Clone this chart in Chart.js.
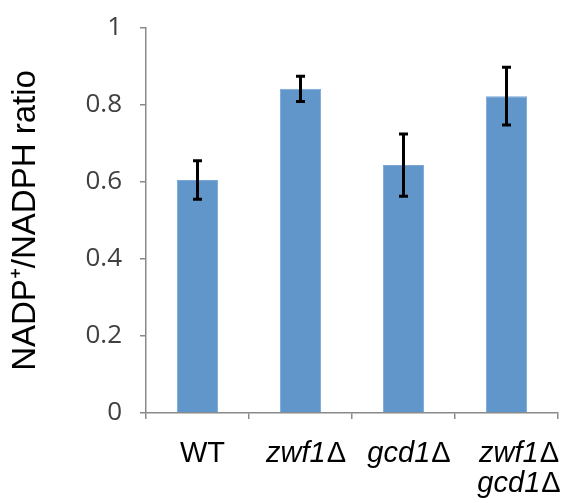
<!DOCTYPE html>
<html>
<head>
<meta charset="utf-8">
<script src="https://cdn.jsdelivr.net/npm/chart.js@4/dist/chart.umd.min.js"></script>
<style>
  html, body { margin: 0; padding: 0; background: #fff; }
  #wrap { width: 565px; height: 503px; }
</style>
</head>
<body>
<div id="wrap"><canvas id="ratioChart"></canvas></div>
<script>
const strains = ["WT", "zwf1Δ", "gcd1Δ", ["zwf1Δ", "gcd1Δ"]];
const ratio = [0.605, 0.842, 0.644, 0.823];
const ratioErr = [0.05, 0.033, 0.081, 0.075];
const yTicks = [0, 0.2, 0.4, 0.6, 0.8, 1];

const axisGrey = "#898989";
const labelFont = "29px 'Liberation Sans'";
const geneFont = "italic 29px 'Liberation Sans'";

// error bars drawn through the y scale
const errorBars = {
  id: "errorBars",
  afterDatasetsDraw(chart) {
    const c = chart.ctx;
    const y = chart.scales.y;
    const meta = chart.getDatasetMeta(0);
    c.save();
    c.strokeStyle = "#000";
    c.lineWidth = 3;
    meta.data.forEach(function (bar, i) {
      const top = y.getPixelForValue(ratio[i] + ratioErr[i]);
      const bot = y.getPixelForValue(ratio[i] - ratioErr[i]);
      c.beginPath();
      c.moveTo(bar.x, top);
      c.lineTo(bar.x, bot);
      c.moveTo(bar.x - 4.5, top);
      c.lineTo(bar.x + 4.5, top);
      c.moveTo(bar.x - 4.5, bot);
      c.lineTo(bar.x + 4.5, bot);
      c.stroke();
    });
    c.restore();
  },
};

// category labels: gene names in italics, the delta upright
function drawLabelLine(c, text, x, y) {
  const parts = text.endsWith("Δ") ? [text.slice(0, -1), "Δ"] : [text, ""];
  const gene = text === "WT" ? labelFont : geneFont;
  c.font = gene;
  const w1 = c.measureText(parts[0]).width;
  c.font = labelFont;
  const w2 = c.measureText(parts[1]).width;
  let left = x - (w1 + w2) / 2;
  c.font = gene;
  c.fillText(parts[0], left, y);
  c.font = labelFont;
  c.fillText(parts[1], left + w1 + 1, y);
}

const strainLabels = {
  id: "strainLabels",
  afterDraw(chart) {
    const c = chart.ctx;
    const x = chart.scales.x;
    const base = chart.chartArea.bottom + 49;
    c.save();
    c.fillStyle = "#000";
    c.textAlign = "left";
    c.textBaseline = "alphabetic";
    strains.forEach(function (lab, i) {
      const cx = x.getPixelForValue(i);
      if (Array.isArray(lab)) {
        lab.forEach(function (line, j) {
          drawLabelLine(c, line, cx + 12, base + j * 30);
        });
      } else {
        drawLabelLine(c, lab, cx + 5, base);
      }
    });
    c.restore();
  },
};

const ctx = document.getElementById("ratioChart").getContext("2d");
const ratioChart = new Chart(ctx, {
  type: "bar",
  data: {
    labels: strains,
    datasets: [
      {
        data: ratio,
        backgroundColor: "#6096ca",
        borderColor: "#7ba7d4",
        borderWidth: 1,
        barPercentage: 0.8,
        categoryPercentage: 0.5,
      },
    ],
  },
  options: {
    responsive: true,
    maintainAspectRatio: false,
    animation: false,
    layout: { padding: { top: 28, right: 7, left: 0, bottom: 0 } },
    plugins: {
      legend: { display: false },
      tooltip: { enabled: false },
    },
    scales: {
      y: {
        min: 0,
        max: 1,
        afterBuildTicks: function (scale) {
          scale.ticks = yTicks.map(function (v) { return { value: v }; });
        },
        afterFit: function (scale) {
          scale.width = 146;
          scale.paddingTop = 0;
          scale.paddingBottom = 0;
        },
        border: { color: axisGrey, width: 1.5 },
        grid: { drawOnChartArea: false, color: axisGrey, tickLength: 6, lineWidth: 1.5 },
        ticks: {
          padding: 18,
          color: "#404040",
          font: { family: "Open Sans", size: 26 },
          callback: function (v) { return String(v); },
        },
        title: {
          display: true,
          text: "NADP⁺/NADPH ratio",
          color: "#000",
          font: { family: "Liberation Sans", size: 33 },
          padding: { top: 6, bottom: 0 },
        },
      },
      x: {
        afterFit: function (scale) { scale.height = 90; },
        border: { color: axisGrey, width: 1.5 },
        grid: { drawOnChartArea: false, color: axisGrey, tickLength: 6, lineWidth: 1.5 },
        ticks: { display: false },
      },
    },
  },
  plugins: [errorBars, strainLabels],
});
</script>
</body>
</html>
